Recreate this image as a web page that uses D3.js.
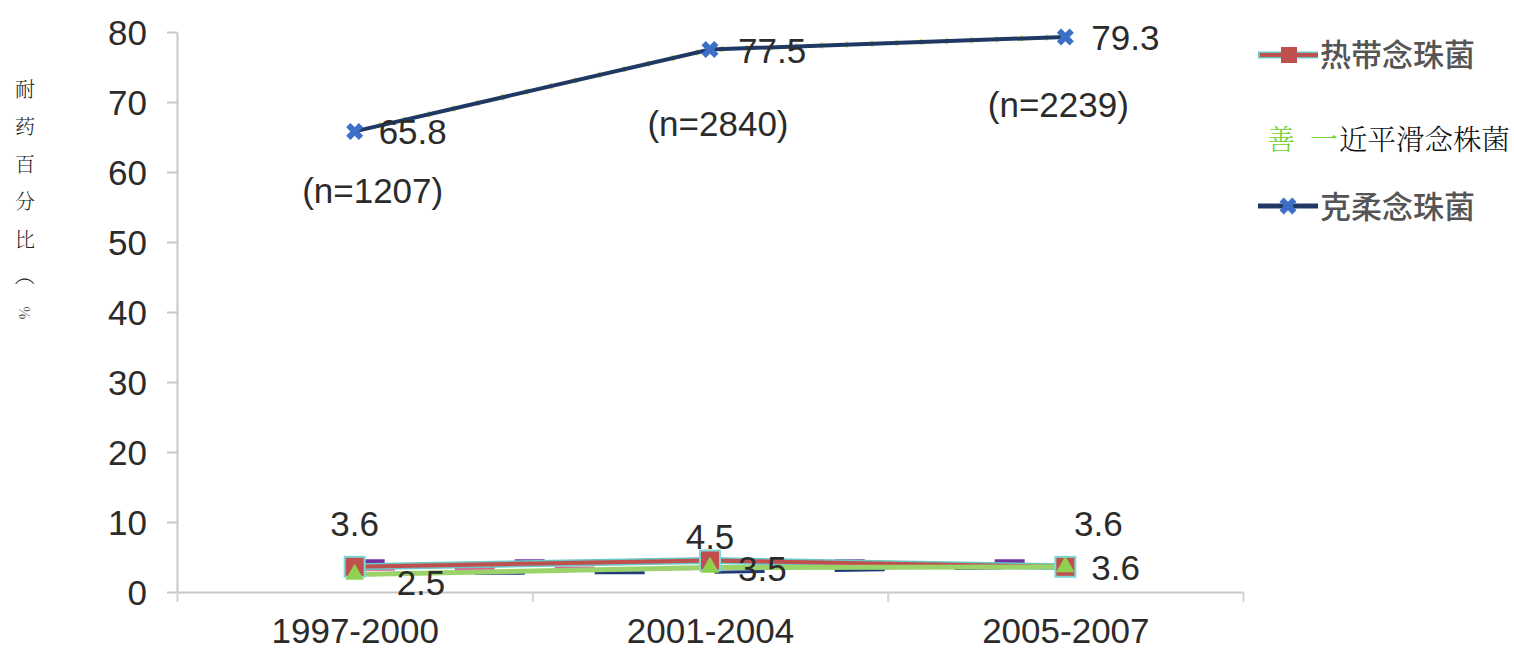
<!DOCTYPE html>
<html><head><meta charset="utf-8">
<script src="https://cdn.jsdelivr.net/npm/d3@7"></script>
<style>
html,body{margin:0;padding:0;background:#fff;width:1514px;height:653px;overflow:hidden;}
</style></head>
<body>
<svg id="chart" width="1514" height="653" style="position:absolute;left:0;top:0"></svg>
<script>
const categories = ["1997-2000", "2001-2004", "2005-2007"];
const tropicalis = [3.6, 4.5, 3.6];      // 热带念珠菌
const parapsilosis = [2.5, 3.5, 3.6];    // 近平滑念株菌
const krusei = [65.8, 77.5, 79.3];       // 克柔念珠菌
const sampleSizes = ["(n=1207)", "(n=2840)", "(n=2239)"];
const dashedA = [4.4, 4.4, 4.4];
const dashedB = [3.3, 3.4, 3.6];
const dashedC = [2.6, 2.8, 3.6];
const yTicks = [0, 10, 20, 30, 40, 50, 60, 70, 80];
const legendNames = ["热带念珠菌", "近平滑念株菌", "克柔念珠菌"];
const yTitleChars = ["耐", "药", "百", "分", "比", "（", "%"];

const svg = d3.select("#chart");
const mLeft = 177, mRight = 1243, mTop = 32, mBottom = 592;
const x = d3.scalePoint().domain(categories).range([mLeft, mRight]).padding(0.5);
const xEdge = d3.scaleLinear().domain([0, 3]).range([mLeft, mRight]);
const y = d3.scaleLinear().domain([0, 80]).range([mBottom, mTop]);
const font = "'Liberation Sans', Arial, sans-serif";

// Y title (vertical)
const yt = svg.append("g");
yTitleChars.forEach((c, i) => {
  const cy = 88 + i * 37.5;
  const t = yt.append("text").text(c).attr("x", 25).attr("y", cy)
    .attr("text-anchor", "middle").attr("dominant-baseline", "central")
    .attr("font-family", "'Noto Serif CJK SC','Noto Sans CJK SC',serif").attr("font-weight", 300)
    .attr("font-size", 20).attr("fill", "#222");
  if (i >= 5) t.attr("transform", `rotate(90,25,${cy})`).attr("font-size", i === 6 ? 14 : 20);
});

// Y axis
const ya = svg.append("g").attr("transform", `translate(${mLeft},0)`)
  .call(d3.axisLeft(y).tickValues(yTicks).tickSize(10).tickPadding(20).tickSizeOuter(0));
ya.select(".domain").attr("stroke", "#c8c8c8").attr("stroke-width", 2);
ya.selectAll(".tick line").attr("stroke", "#c8c8c8").attr("stroke-width", 2);
ya.selectAll(".tick text").attr("font-family", font).attr("font-size", 35).attr("fill", "#2b2b2b").attr("dy", "0.35em");

// X axis line with boundary ticks
const xa = svg.append("g").attr("transform", `translate(0,${mBottom})`)
  .call(d3.axisBottom(xEdge).tickValues([0, 1, 2, 3]).tickFormat("").tickSize(10).tickSizeOuter(0));
xa.select(".domain").attr("stroke", "#c8c8c8").attr("stroke-width", 2);
xa.selectAll(".tick line").attr("stroke", "#d4d4d4").attr("stroke-width", 2);
const xl = svg.append("g").attr("transform", `translate(0,${mBottom})`)
  .call(d3.axisBottom(x).tickSize(0).tickPadding(26));
xl.select(".domain").remove();
xl.selectAll(".tick text").attr("font-family", font).attr("font-size", 35).attr("fill", "#2b2b2b").attr("dy", "0.71em");

const line = d3.line().x((d, i) => x(categories[i])).y(d => y(d));

// dashed background series
svg.append("path").datum(dashedA).attr("d", line).attr("fill", "none")
  .attr("stroke", "#7030a0").attr("stroke-width", 4).attr("stroke-dasharray", "30 130");
svg.append("path").datum(dashedB).attr("d", line).attr("fill", "none")
  .attr("stroke", "#e0609a").attr("stroke-width", 4).attr("stroke-dasharray", "40 60");
svg.append("path").datum(dashedC).attr("d", line).attr("fill", "none")
  .attr("stroke", "#1f3a78").attr("stroke-width", 3).attr("stroke-dasharray", "50 70");

// tropicalis (red with cyan edge)
svg.append("path").datum(tropicalis).attr("d", line).attr("fill", "none")
  .attr("stroke", "#6cc6c6").attr("stroke-width", 7);
svg.append("path").datum(tropicalis).attr("d", line).attr("fill", "none")
  .attr("stroke", "#c0504d").attr("stroke-width", 4);
// parapsilosis (green)
svg.append("path").datum(parapsilosis).attr("d", line).attr("fill", "none")
  .attr("stroke", "#9bd36a").attr("stroke-width", 5);

svg.selectAll(".sq").data(tropicalis).enter().append("rect")
  .attr("x", (d, i) => x(categories[i]) - 10).attr("y", d => y(d) - 10)
  .attr("width", 20).attr("height", 20).attr("fill", "#c0504d").attr("stroke", "#7fd8d8").attr("stroke-width", 2);
svg.selectAll(".tri").data(parapsilosis).enter().append("path")
  .attr("transform", (d, i) => `translate(${x(categories[i])},${y(d)})`)
  .attr("d", d3.symbol().type(d3.symbolTriangle).size(150)).attr("fill", "#8fd14f");

// krusei
svg.append("path").datum(krusei).attr("d", line).attr("fill", "none")
  .attr("stroke", "#d8e070").attr("stroke-width", 6).attr("stroke-dasharray", "3 22");
svg.append("path").datum(krusei).attr("d", line).attr("fill", "none")
  .attr("stroke", "#1f3864").attr("stroke-width", 4);
svg.selectAll(".xm").data(krusei).enter().append("path")
  .attr("transform", (d, i) => `translate(${x(categories[i])},${y(d)}) rotate(45)`)
  .attr("d", d3.symbol().type(d3.symbolCross).size(180)).attr("fill", "#3b6fc8");

// value labels
const lab = (t, xx, yy, anchor) => svg.append("text").text(t).attr("x", xx).attr("y", yy)
  .attr("text-anchor", anchor || "start").attr("font-family", font).attr("font-size", 35).attr("fill", "#2b2b2b");
const f1 = d3.format(".1f");
lab(f1(krusei[0]), x(categories[0]) + 24, y(krusei[0]) + 13);
lab(f1(krusei[1]), x(categories[1]) + 28, y(krusei[1]) + 13);
lab(f1(krusei[2]), x(categories[2]) + 26, y(krusei[2]) + 13);
lab(sampleSizes[0], x(categories[0]) + 18, 203, "middle");
lab(sampleSizes[1], x(categories[1]) + 8, 136, "middle");
lab(sampleSizes[2], x(categories[2]) - 7, 117, "middle");
lab(f1(tropicalis[0]), x(categories[0]), y(tropicalis[0]) - 31, "middle");
lab(f1(parapsilosis[0]), x(categories[0]) + 42, y(parapsilosis[0]) + 20);
lab(f1(tropicalis[1]), x(categories[1]), y(tropicalis[1]) - 12, "middle");
lab(f1(parapsilosis[1]), x(categories[1]) + 28, y(parapsilosis[1]) + 13);
lab(f1(tropicalis[2]), x(categories[2]) + 33, y(tropicalis[2]) - 31, "middle");
lab(f1(parapsilosis[2]), x(categories[2]) + 26, y(parapsilosis[2]) + 13);

// legend
const lg = svg.append("g");
lg.append("line").attr("x1", 1258).attr("x2", 1318).attr("y1", 55).attr("y2", 55).attr("stroke", "#6cc6c6").attr("stroke-width", 7);
lg.append("line").attr("x1", 1260).attr("x2", 1318).attr("y1", 55).attr("y2", 55).attr("stroke", "#c0504d").attr("stroke-width", 4);
lg.append("rect").attr("x", 1281).attr("y", 47).attr("width", 16).attr("height", 16).attr("fill", "#c0504d");
lg.append("text").text(legendNames[0]).attr("x", 1320).attr("y", 66).attr("font-family", "'Noto Sans CJK SC', sans-serif")
  .attr("font-size", 31).attr("font-weight", 500).attr("fill", "#555");
const serifCJK = "'Noto Serif CJK SC', 'Noto Sans CJK SC', serif";
lg.append("text").text("善").attr("x", 1267).attr("y", 150).attr("font-family", serifCJK)
  .attr("font-size", 28).attr("font-weight", 300).attr("fill", "#6fd12f");
lg.append("text").text("一").attr("x", 1310).attr("y", 150).attr("font-family", serifCJK)
  .attr("font-size", 28).attr("font-weight", 300).attr("fill", "#6fd12f");
lg.append("text").text(legendNames[1]).attr("x", 1339).attr("y", 150).attr("font-family", serifCJK)
  .attr("font-size", 28.5).attr("font-weight", 300).attr("fill", "#111");
lg.append("line").attr("x1", 1258).attr("x2", 1318).attr("y1", 206).attr("y2", 206).attr("stroke", "#1f3864").attr("stroke-width", 5);
lg.append("path").attr("transform", "translate(1288,206) rotate(45)")
  .attr("d", d3.symbol().type(d3.symbolCross).size(180)).attr("fill", "#3b6fc8");
lg.append("text").text(legendNames[2]).attr("x", 1320).attr("y", 218).attr("font-family", "'Noto Sans CJK SC', sans-serif")
  .attr("font-size", 31).attr("font-weight", 500).attr("fill", "#555");
</script>
</body></html>
